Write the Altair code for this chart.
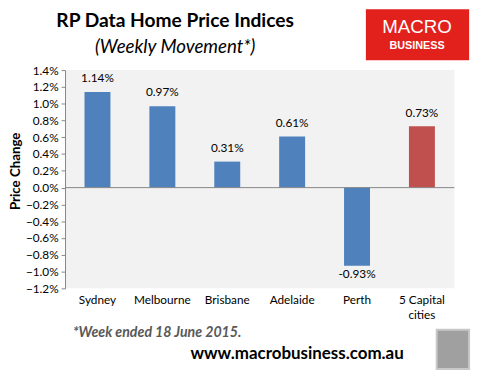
import altair as alt
import pandas as pd

cities = ["Sydney", "Melbourne", "Brisbane", "Adelaide", "Perth", "5 Capital cities"]
changes = [1.14, 0.97, 0.31, 0.61, -0.93, 0.73]
bar_colors = ["#4F81BD", "#4F81BD", "#4F81BD", "#4F81BD", "#4F81BD", "#C0504D"]
y_ticks = [-1.2, -1.0, -0.8, -0.6, -0.4, -0.2, 0.0, 0.2, 0.4, 0.6, 0.8, 1.0, 1.2, 1.4]

title_text = "RP Data Home Price Indices"
subtitle_text = "(Weekly Movement*)"
footnote_text = "*Week ended 18 June 2015."
url_text = "www.macrobusiness.com.au"
y_title = "Price Change"

FONT = "Lato"

df = pd.DataFrame({
    "city": cities,
    "change": changes,
    "color": bar_colors,
    "label": [f"{v:.2f}%" for v in changes],
})

x_axis = alt.Axis(
    title=None, labelAngle=0, domain=False, ticks=False, labelPadding=6,
    labelFontSize=12, labelColor="#000000", labelFont=FONT, labelLineHeight=16,
    labelExpr="datum.value == '5 Capital cities' ? ['5 Capital', 'cities'] : datum.value",
)
y_axis = alt.Axis(
    values=y_ticks, title=None, grid=False, labelOverlap=False,
    labelExpr="format(datum.value, '.1f') + '%'",
    domainColor="#868686", tickColor="#868686", tickSize=4,
    labelFontSize=12, labelColor="#000000", labelFont=FONT, labelPadding=3,
)
x_scale = alt.Scale(paddingInner=0.6, paddingOuter=0.3)
y_scale = alt.Scale(domain=[-1.2, 1.4], nice=False, zero=False)

bars = alt.Chart(df).mark_bar().encode(
    x=alt.X("city:N", sort=cities, scale=x_scale, axis=x_axis),
    y=alt.Y("change:Q", scale=y_scale, axis=y_axis),
    color=alt.Color("color:N", scale=None),
)

zero_rule = alt.Chart(pd.DataFrame({"change": [0.0]})).mark_rule(color="#868686", strokeWidth=1).encode(
    y=alt.Y("change:Q", scale=y_scale, axis=y_axis)
)

pos_labels = alt.Chart(df).transform_filter("datum.change >= 0").mark_text(
    baseline="bottom", dy=-7, fontSize=12, font=FONT, color="#000000"
).encode(
    x=alt.X("city:N", sort=cities, scale=x_scale, axis=x_axis),
    y=alt.Y("change:Q", scale=y_scale, axis=y_axis),
    text="label:N",
)

neg_labels = alt.Chart(df).transform_filter("datum.change < 0").mark_text(
    baseline="top", dy=4, fontSize=12, font=FONT, color="#000000"
).encode(
    x=alt.X("city:N", sort=cities, scale=x_scale, axis=x_axis),
    y=alt.Y("change:Q", scale=y_scale, axis=y_axis),
    text="label:N",
)


def txt(text, x, y, **kw):
    return alt.Chart(pd.DataFrame({"t": [text]})).mark_text(**kw).encode(
        text="t:N", x=alt.value(x), y=alt.value(y)
    )


title = txt(title_text, 112, -50, fontSize=19.5, fontWeight="bold", font=FONT, color="#000000")
subtitle = txt(subtitle_text, 112, -23, fontSize=19, fontStyle="italic", font=FONT, color="#000000")
ytitle = txt(y_title, -50, 103, fontSize=13.5, fontWeight="bold", font=FONT, color="#000000", angle=270)
footnote = txt(footnote_text, 8, 267, align="left", fontSize=14.4, fontWeight="bold",
               fontStyle="italic", font=FONT, color="#595959")
url = txt(url_text, 236, 289, fontSize=17.2, fontWeight="bold", font=FONT, color="#000000")

logo_box = alt.Chart(pd.DataFrame({"a": [0]})).mark_rect(color="#E2211D").encode(
    x=alt.value(306), x2=alt.value(411), y=alt.value(-62), y2=alt.value(-10)
)
logo1 = txt("MACRO", 358, -44, fontSize=19, font="Liberation Sans", color="#FFFFFF")
logo2 = txt("BUSINESS", 358, -24, fontSize=11, font="Liberation Sans", color="#FFFFFF", fontWeight="bold")

wolf = alt.Chart(pd.DataFrame({"a": [0]})).mark_rect(
    color="#A0A0A0", stroke="#C8C8C8", strokeWidth=2
).encode(x=alt.value(378), x2=alt.value(411), y=alt.value(264), y2=alt.value(304))

chart = alt.layer(
    bars, zero_rule, pos_labels, neg_labels,
    title, subtitle, ytitle, footnote, url, logo_box, logo1, logo2, wolf,
).properties(
    width=396, height=222,
    padding={"left": 58, "top": 60, "right": 22, "bottom": 87},
    autosize=alt.AutoSizeParams(type="none"),
    background="#FFFFFF",
).configure_view(fill="#F2F2F2", stroke=None).configure_axisY(labelOverlap=False)

chart.save("out.html", embed_options={"renderer": "svg", "actions": False})
